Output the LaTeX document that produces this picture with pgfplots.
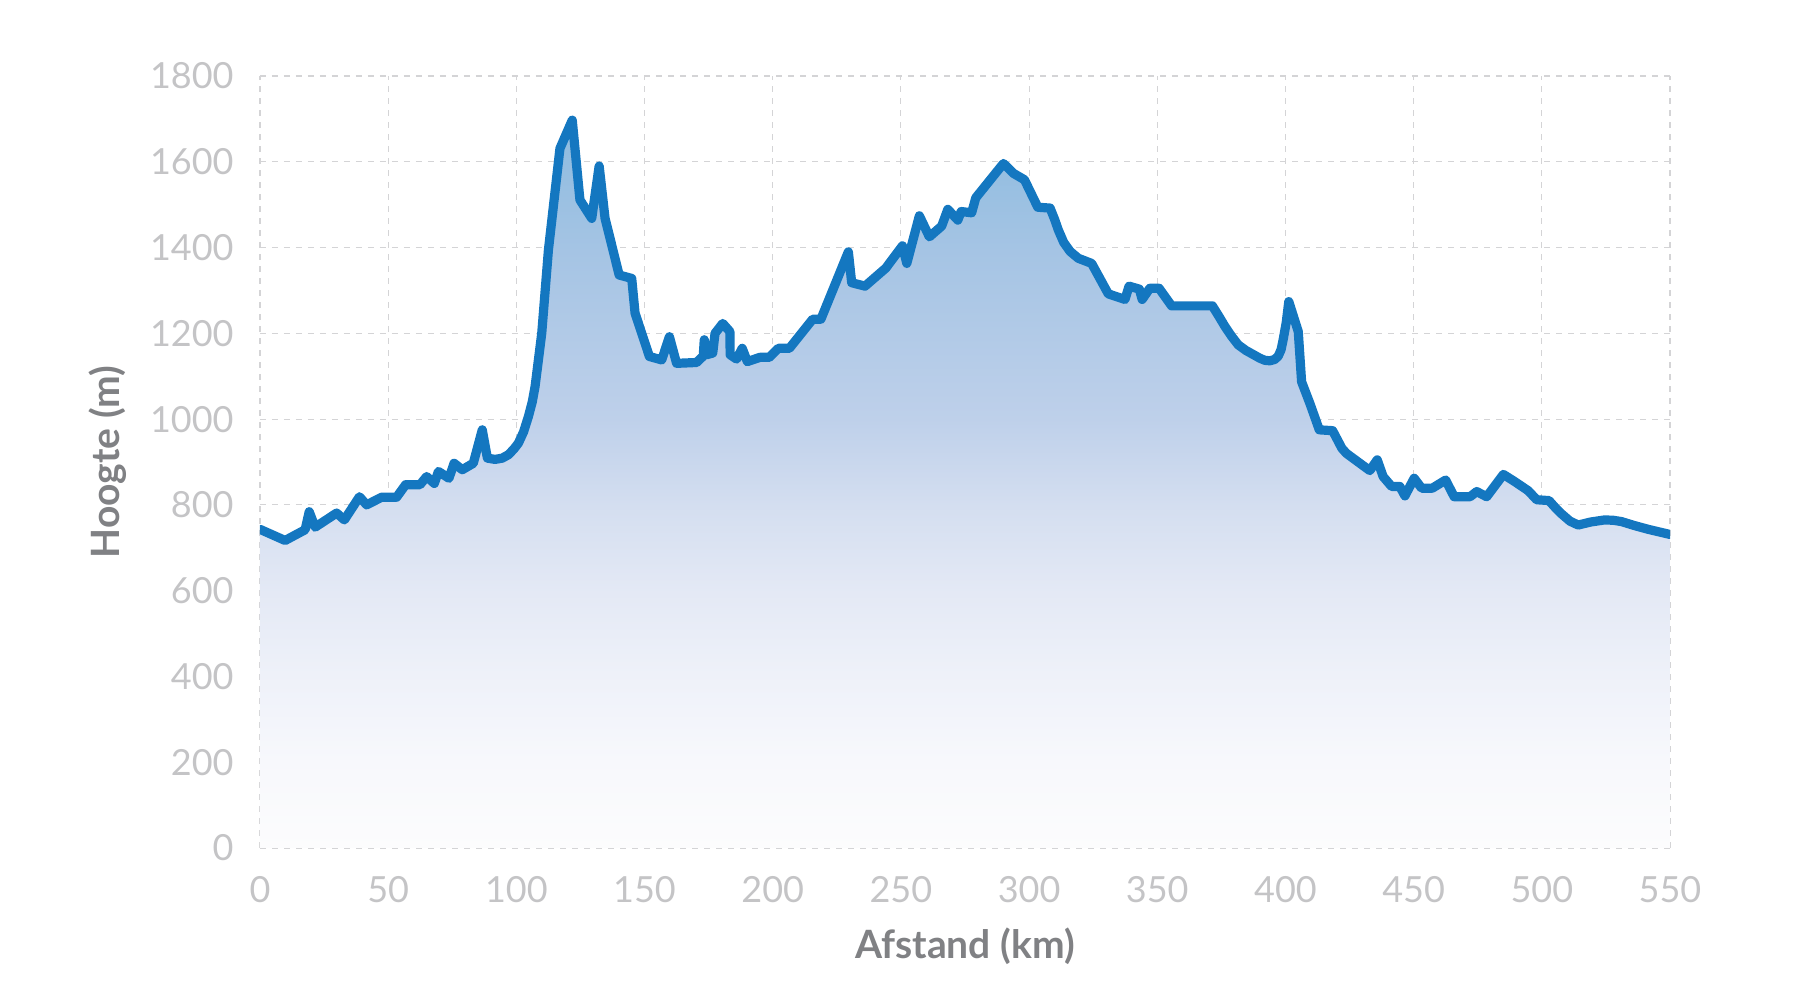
\documentclass[border=0pt]{standalone}
\usepackage{pgfplots}
\pgfplotsset{compat=1.18}
\usepackage{pgfplotstable}
\usepackage{fontspec}
\setmainfont{Lato}
\definecolor{linec}{RGB}{20,119,192}
\definecolor{tickc}{RGB}{196,196,198}
\definecolor{labc}{RGB}{128,129,132}
\definecolor{gridc}{RGB}{212,212,214}
\pgfdeclareverticalshading{elevshade}{100bp}{%
  rgb(0bp)=(0.988,0.988,0.992);
  rgb(25bp)=(0.988,0.988,0.992);
  rgb(31bp)=(0.969,0.973,0.988);
  rgb(37bp)=(0.933,0.945,0.976);
  rgb(42.5bp)=(0.894,0.914,0.961);
  rgb(48.5bp)=(0.831,0.871,0.941);
  rgb(54.5bp)=(0.745,0.816,0.918);
  rgb(66bp)=(0.647,0.769,0.894);
  rgb(75bp)=(0.549,0.733,0.875);
  rgb(100bp)=(0.549,0.733,0.875)}
\pgfplotstableread{
x y
0 743
9.8 717
17.6 742
19.2 784
21.5 748
29.9 781
32.9 765
38.8 819
41.6 800
47.5 818
53.3 818
56.8 847
62.4 847
65 866
68 850
69.6 878
73.7 862
75.7 897
78.9 882
83.2 897
86.7 975
88.7 909
91.7 906
94.5 909
96.9 917
99 930
100.8 944
102.8 970
104.7 1006
106.2 1040
107.3 1076
109.9 1200
112.5 1394
117.0 1631
121.8 1697
124.8 1511
129.4 1468
132.3 1590
134.6 1468
140.1 1336
145 1328
146.3 1247
151.9 1146
156.7 1138
159.7 1192
162.5 1130
170.3 1132
172.9 1147
173.3 1185
174.2 1150
176.6 1154
177.5 1200
180.5 1223
183.3 1204
183.4 1150
185.9 1140
188.1 1165
190.1 1134
195 1144
198.7 1144
202.2 1165
206.5 1165
215.6 1233
218.8 1233
229.5 1390
230.8 1318
236 1310
244.1 1352
250.6 1404
252.3 1363
257.2 1474
261.1 1425
265.9 1450
268.3 1489
272.2 1464
273.5 1484
277.6 1481
279.2 1516
290 1596
293.9 1573
298.2 1558
303.4 1494
308.2 1492
310 1465
311.4 1441
313.5 1412
316 1391
319.2 1375
324.4 1363
330.9 1292
337.4 1279
339 1310
343 1303
344.1 1279
347.1 1305
350.7 1305
355.6 1264
371.5 1264
374 1240
376.4 1216
379 1193
381.6 1173
384.6 1160
390 1142
392 1137
393.9 1136
395.8 1139
397.2 1147
398.3 1162
399.1 1185
400.3 1225
401.3 1274
405 1204
406.3 1087
409.5 1037
413.2 975
418.4 973
420.6 948
422 932
423.8 920
432.9 880
435.8 905
438.1 866
441.4 843
444.6 843
446.6 821
450.2 862
453.1 839
457.3 839
462.5 858
465.8 819
472 819
474.6 831
478.5 819
485 871
489.5 854
494.7 833
498 812
502.8 810
505.5 792
507.7 779
511 762
514.2 753
519 760
524.6 765
528 764
531.1 761
536 752
541.5 743
550 731
}\elev
\begin{document}
\begin{tikzpicture}
\path[use as bounding box] (-130pt,-76pt) rectangle (770pt,424pt);
\begin{axis}[
  at={(0,0)}, anchor=south west,
  scale only axis, width=705pt, height=386pt,
  xmin=0, xmax=550, ymin=0, ymax=1800,
  xtick={0,50,...,550}, ytick={0,200,...,1800},
  axis line style={draw=none},
  major tick length=0pt,
  grid=major,
  major grid style={gridc, line width=0.55pt, dash pattern=on 3pt off 3pt},
  /pgf/number format/assume math mode=true,
  /pgf/number format/1000 sep={},
  ticklabel style={font=\fontsize{18}{20}\selectfont, text=tickc},
  yticklabel style={anchor=east, inner sep=0pt, xshift=-13pt},
  xticklabel style={anchor=north, inner sep=0pt, yshift=-14pt},
  xlabel={Afstand (km)}, ylabel={Hoogte (m)},
  label style={font=\fontsize{19.5}{22}\selectfont\bfseries, text=labc},
  xlabel style={at={(axis description cs:0.5,0)}, anchor=north, inner sep=0pt, yshift=-39.5pt},
  ylabel style={at={(axis description cs:-0.1078,0.5)}, anchor=center, inner sep=0pt},
]
\addplot[draw=none, shading=elevshade] table {\elev} \closedcycle;
\addplot[linec, line width=4.6pt, line join=round, line cap=round] table {\elev};
\end{axis}
\end{tikzpicture}
\end{document}
